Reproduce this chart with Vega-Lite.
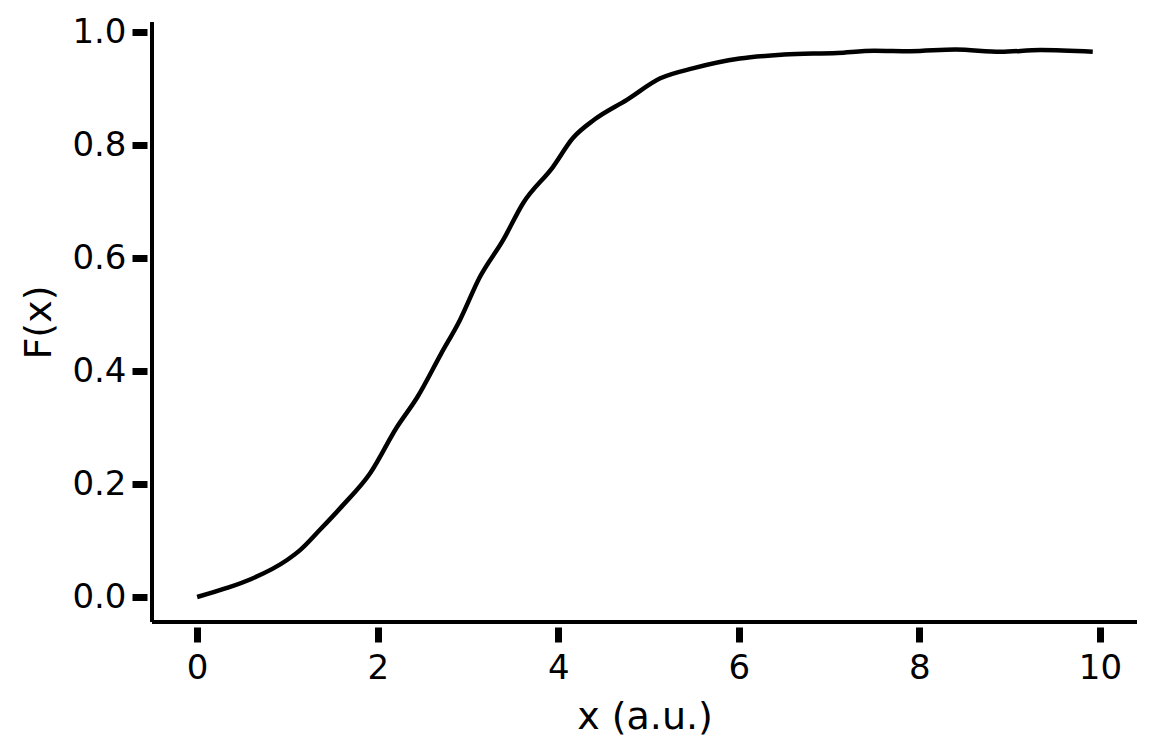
{
  "$schema": "https://vega.github.io/schema/vega-lite/v6.json",
  "width": 985,
  "height": 600,
  "autosize": {"type": "none"},
  "padding": {"left": 152, "top": 22, "right": 19, "bottom": 134},
  "background": "white",
  "config": {
    "view": {"stroke": null},
    "font": "DejaVu Sans",
    "axis": {
      "domain": false,
      "grid": false,
      "ticks": true,
      "tickColor": "black",
      "tickWidth": 7,
      "tickSize": 15,
      "offset": 5,
      "labelFont": "DejaVu Sans",
      "labelFontSize": 34,
      "labelColor": "black",
      "labelPadding": 6,
      "titleFont": "DejaVu Sans",
      "titleFontSize": 38,
      "titleFontWeight": "normal",
      "titleColor": "black"
    }
  },
  "data": {
    "values": [
      {"x": 0.0, "F": 0.0},
      {"x": 0.33, "F": 0.016},
      {"x": 0.6, "F": 0.032},
      {"x": 1.0, "F": 0.066},
      {"x": 1.14, "F": 0.083},
      {"x": 1.36, "F": 0.119},
      {"x": 1.6, "F": 0.16},
      {"x": 1.92, "F": 0.22},
      {"x": 2.21, "F": 0.3},
      {"x": 2.44, "F": 0.354},
      {"x": 2.7, "F": 0.43},
      {"x": 2.91, "F": 0.49},
      {"x": 3.13, "F": 0.566},
      {"x": 3.39, "F": 0.632},
      {"x": 3.61, "F": 0.697},
      {"x": 3.94, "F": 0.761},
      {"x": 4.16, "F": 0.812},
      {"x": 4.4, "F": 0.845},
      {"x": 4.76, "F": 0.88},
      {"x": 5.13, "F": 0.918},
      {"x": 5.5, "F": 0.936},
      {"x": 6.01, "F": 0.953},
      {"x": 6.5, "F": 0.96},
      {"x": 7.09, "F": 0.963},
      {"x": 7.5, "F": 0.967},
      {"x": 7.9, "F": 0.966},
      {"x": 8.4, "F": 0.969},
      {"x": 8.9, "F": 0.965},
      {"x": 9.34, "F": 0.968},
      {"x": 9.92, "F": 0.965}
    ]
  },
  "layer": [
    {
      "mark": {"type": "line", "color": "black", "strokeWidth": 4.5, "interpolate": "monotone"},
      "encoding": {
        "x": {
          "field": "x", "type": "quantitative",
          "scale": {"domain": [-0.5, 10.41], "nice": false, "zero": false},
          "axis": {"values": [0, 2, 4, 6, 8, 10], "format": "d", "title": "x (a.u.)", "labelPadding": 9, "titlePadding": 13}
        },
        "y": {
          "field": "F", "type": "quantitative",
          "scale": {"domain": [-0.0442, 1.0177], "nice": false, "zero": false},
          "axis": {"values": [0, 0.2, 0.4, 0.6, 0.8, 1.0], "format": ".1f", "title": "F(x)", "titlePadding": 13}
        }
      }
    },
    {
      "mark": {"type": "rule", "color": "black", "strokeWidth": 3},
      "encoding": {"x": {"datum": -0.5, "type": "quantitative"}}
    },
    {
      "mark": {"type": "rule", "color": "black", "strokeWidth": 3},
      "encoding": {"y": {"datum": -0.0442, "type": "quantitative"}}
    }
  ]
}
